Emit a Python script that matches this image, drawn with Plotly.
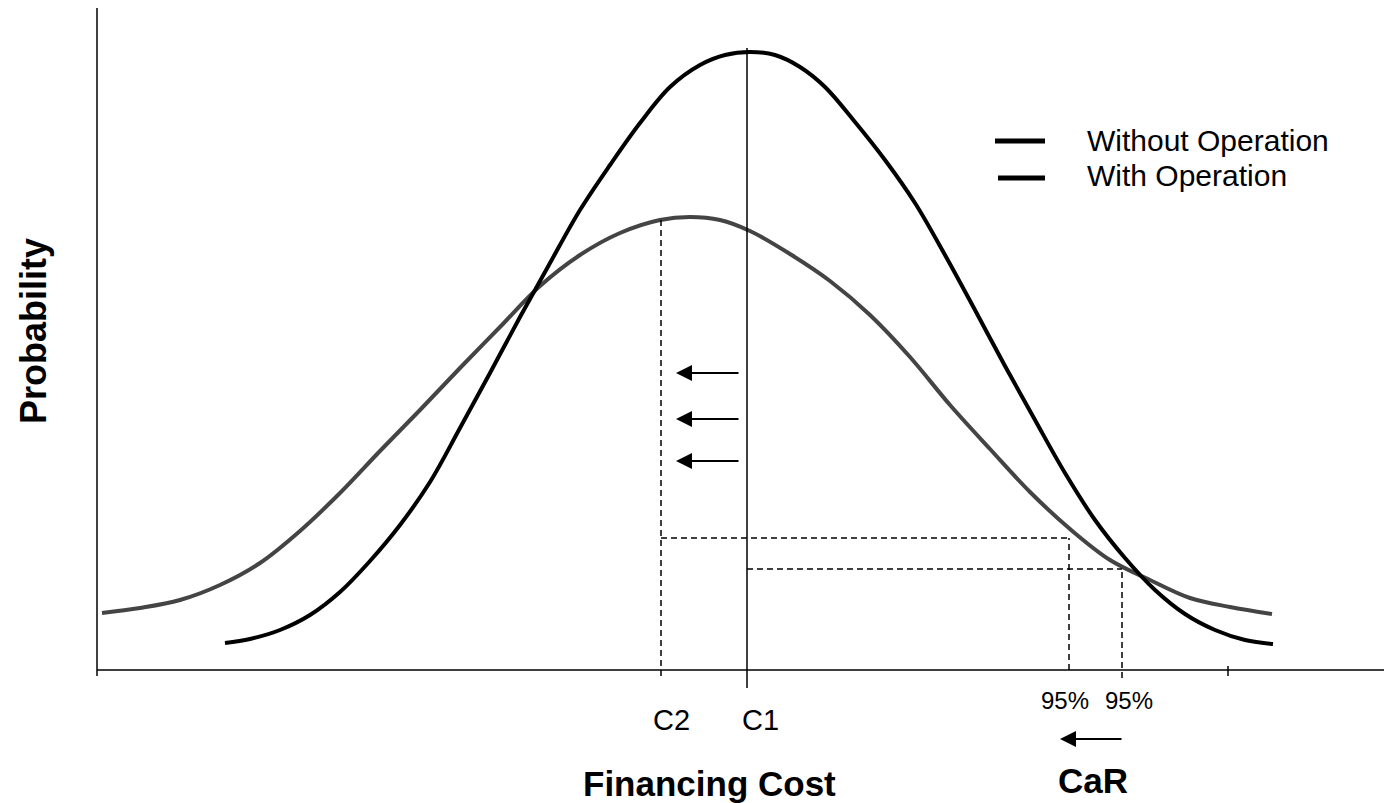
import plotly.graph_objects as go

# ---- Data (x: financing cost units, y: probability units) ----
without_x = [128, 153, 183, 213, 243, 273, 303, 333, 363, 393, 423, 453, 483, 513, 543, 573,
             603, 628, 653, 678, 703, 728, 758, 788, 818, 848, 878, 908, 938, 968, 998,
             1028, 1058, 1088, 1118, 1148, 1176]
without_y = [27, 31, 40, 55, 78, 109, 145, 188, 242, 297, 353, 407, 460, 505, 547, 583,
             605, 615, 618, 615, 603, 583, 548, 510, 467, 415, 360, 304, 250, 197, 150,
             112, 80, 56, 40, 30, 26]

with_x = [5, 43, 83, 123, 163, 203, 243, 283, 323, 363, 403, 443, 483, 523, 563, 593, 623,
          653, 693, 733, 773, 813, 853, 893, 933, 973, 1013, 1053, 1093, 1133, 1175]
with_y = [57, 62, 70, 85, 107, 139, 177, 219, 260, 302, 343, 384, 415, 437, 450, 453, 450,
          439, 416, 389, 355, 313, 265, 221, 178, 141, 110, 90, 72, 63, 56]

series_names = ["Without Operation", "With Operation"]
c1_x, c2_x = 650, 564            # expected costs
p95_without, p95_with = 972, 1025  # 95% quantiles
h95_without, h95_with = 101, 132   # curve heights at the 95% points
x_max, y_max = 1287, 662
tick_labels = ["C2", "C1", "95%", "95%"]

FONT = "Arial, Liberation Sans, sans-serif"

fig = go.Figure()

fig.add_trace(go.Scatter(x=with_x, y=with_y, mode="lines", name=series_names[1],
                         line=dict(color="#444444", width=4, shape="spline", smoothing=1.0),
                         hoverinfo="skip"))
fig.add_trace(go.Scatter(x=without_x, y=without_y, mode="lines", name=series_names[0],
                         line=dict(color="#000000", width=4, shape="spline", smoothing=1.0),
                         hoverinfo="skip"))

shapes = []
# axes
shapes.append(dict(type="line", x0=0, x1=x_max, y0=0, y1=0, line=dict(color="black", width=1.5)))
shapes.append(dict(type="line", x0=0, x1=0, y0=0, y1=y_max, line=dict(color="black", width=1.5)))
# small ticks
shapes.append(dict(type="line", x0=0, x1=0, y0=0, y1=-6, line=dict(color="black", width=1.5)))
shapes.append(dict(type="line", x0=1131, x1=1131, y0=4, y1=-6, line=dict(color="black", width=1.5)))
# C1 solid line
shapes.append(dict(type="line", x0=c1_x, x1=c1_x, y0=-18, y1=622, line=dict(color="black", width=1.5)))
# C2 dashed
dash = "6px,4px"
shapes.append(dict(type="line", x0=c2_x, x1=c2_x, y0=-6, y1=452, line=dict(color="black", width=1.5, dash=dash)))
# 95% verticals
shapes.append(dict(type="line", x0=p95_without, x1=p95_without, y0=0, y1=h95_with,
                   line=dict(color="black", width=1.5, dash=dash)))
shapes.append(dict(type="line", x0=p95_with, x1=p95_with, y0=-8, y1=h95_without,
                   line=dict(color="black", width=1.5, dash=dash)))
# horizontals
shapes.append(dict(type="line", x0=c2_x, x1=p95_without, y0=h95_with, y1=h95_with,
                   line=dict(color="black", width=1.5, dash=dash)))
shapes.append(dict(type="line", x0=c1_x, x1=p95_with, y0=h95_without, y1=h95_without,
                   line=dict(color="black", width=1.5, dash=dash)))
# legend segments
shapes.append(dict(type="line", x0=898, x1=948, y0=529, y1=529, line=dict(color="black", width=5)))
shapes.append(dict(type="line", x0=901, x1=948, y0=492, y1=492, line=dict(color="black", width=5)))

annotations = []
# shift arrows
for yy in [297, 251, 209]:
    annotations.append(dict(x=579, y=yy, ax=643, ay=yy, axref="x", ayref="y", xref="x", yref="y",
                            showarrow=True, arrowhead=2, arrowsize=1.6, arrowwidth=2,
                            arrowcolor="black", text="", standoff=0, startstandoff=0))
# CaR arrow
annotations.append(dict(x=963, y=-69, ax=1026, ay=-69, axref="x", ayref="y", xref="x", yref="y",
                        showarrow=True, arrowhead=2, arrowsize=1.6, arrowwidth=2,
                        arrowcolor="black", text="", standoff=0, startstandoff=0))

def txt(x, y, s, size, bold=False, anchor="center", angle=0):
    annotations.append(dict(x=x, y=y, xref="x", yref="y", text=f"<b>{s}</b>" if bold else s,
                            showarrow=False, xanchor=anchor, yanchor="middle", textangle=angle,
                            font=dict(family=FONT, size=size, color="black")))

txt(574, -50, tick_labels[0], 29)
txt(663, -50, tick_labels[1], 29)
txt(968, -30, tick_labels[2], 24)
txt(1032, -30, tick_labels[3], 24)
txt(612, -113, "Financing Cost", 35, bold=True)
txt(996, -110, "CaR", 35, bold=True)
txt(-64, 339, "Probability", 36, bold=True, angle=-90)
txt(988, 530, series_names[0], 30, anchor="left")
txt(988, 495, series_names[1], 30, anchor="left")

fig.update_layout(
    width=1384, height=803,
    margin=dict(l=0, r=0, t=0, b=0),
    plot_bgcolor="white", paper_bgcolor="white",
    showlegend=False,
    shapes=shapes, annotations=annotations,
    xaxis=dict(range=[-97, 1287], visible=False, fixedrange=True),
    yaxis=dict(range=[-133, 670], visible=False, fixedrange=True),
)

fig.write_html("out.html", config={"displayModeBar": False},
               post_script="document.body.style.margin='0';document.body.style.overflow='hidden';")
